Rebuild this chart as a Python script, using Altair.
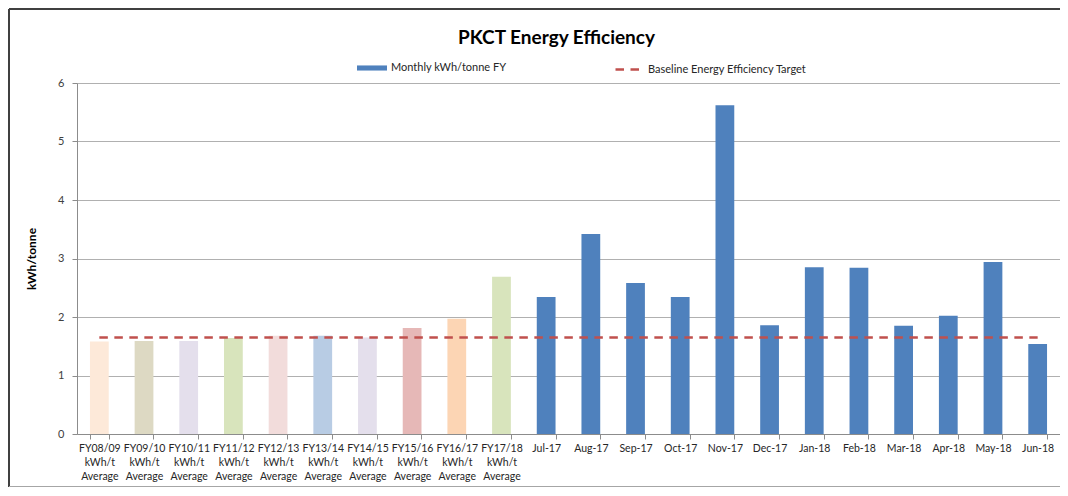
import altair as alt
import pandas as pd

categories = [
    "FY08/09 kWh/t Average", "FY09/10 kWh/t Average", "FY10/11 kWh/t Average",
    "FY11/12 kWh/t Average", "FY12/13 kWh/t Average", "FY13/14 kWh/t Average",
    "FY14/15 kWh/t Average", "FY15/16 kWh/t Average", "FY16/17 kWh/t Average",
    "FY17/18 kWh/t Average",
    "Jul-17", "Aug-17", "Sep-17", "Oct-17", "Nov-17", "Dec-17",
    "Jan-18", "Feb-18", "Mar-18", "Apr-18", "May-18", "Jun-18",
]
values = [1.58, 1.59, 1.59, 1.64, 1.68, 1.68, 1.65, 1.81, 1.97, 2.69,
          2.34, 3.42, 2.58, 2.34, 5.62, 1.86, 2.85, 2.84, 1.85, 2.02, 2.94, 1.54]
bar_colors = ["#FDE9D9", "#DDD9C3", "#E4DFEC", "#D8E4BC", "#F2DCDB", "#B8CCE4",
              "#E4DFEC", "#E6B8B7", "#FCD5B4", "#D8E4BC"] + ["#4F81BD"] * 12
groups = ["FY"] * 10 + ["Monthly"] * 12
target = [1.65] * 22

series_bar = "Monthly kWh/tonne FY"
series_line = "Baseline Energy Efficiency Target"

df = pd.DataFrame({
    "category": categories,
    "value": values,
    "color": bar_colors,
    "group": groups,
    "target": target,
    "series": series_bar,
    "tseries": series_line,
})

FONT = "Lato"
W, H = 983, 351

x_enc = alt.X(
    "category:N", sort=categories, title=None,
    scale=alt.Scale(paddingInner=0.58, paddingOuter=0.29),
    axis=alt.Axis(
        labelAngle=0, tickBand="extent",
        labelExpr="isValid(datum.value) ? split(datum.value, ' ') : ''",
        labelLineHeight=14, labelFontSize=10.5, labelColor="#262626",
        tickSize=5, tickColor="#8C8C8C", domainColor="#8C8C8C",
        labelPadding=4, labelFont=FONT, grid=False,
    ),
)

y_enc = alt.Y(
    "value:Q", title="kWh/tonne",
    scale=alt.Scale(domain=[0, 6], nice=False),
    axis=alt.Axis(
        values=[0, 1, 2, 3, 4, 5, 6], format="d", labelFontSize=11,
        labelColor="#404040", labelFont=FONT, tickSize=5, tickColor="#8C8C8C",
        domainColor="#8C8C8C", gridColor="#B0B0B0", labelPadding=8,
        titleFont=FONT, titleFontSize=12, titleFontWeight="bold",
        titleColor="#000000", titleX=-46, titleY=H / 2, titleAngle=270,
        titleAlign="center", titleBaseline="middle",
    ),
)

base = alt.Chart(df)

fy_bars = base.transform_filter(alt.datum.group == "FY").mark_bar().encode(
    x=x_enc, y=y_enc, color=alt.Color("color:N", scale=None),
)

month_bars = base.transform_filter(alt.datum.group == "Monthly").mark_bar().encode(
    x=x_enc, y=y_enc,
    fill=alt.Fill(
        "series:N",
        scale=alt.Scale(domain=[series_bar], range=["#4F81BD"]),
        legend=alt.Legend(
            title=None, orient="none", legendX=280, legendY=-30, padding=0,
            symbolType="M-1,-0.17L1,-0.17L1,0.17L-1,0.17Z", symbolSize=900,
            symbolStrokeWidth=0, labelFont=FONT, labelFontSize=11,
            labelColor="#262626", labelOffset=4,
        ),
    ),
)

line = base.mark_line(strokeDash=[8.5, 6.5], strokeWidth=2.6).encode(
    x=x_enc,
    y=alt.Y("target:Q", scale=alt.Scale(domain=[0, 6], nice=False)),
    stroke=alt.Stroke(
        "tseries:N",
        scale=alt.Scale(domain=[series_line], range=["#C0504D"]),
        legend=alt.Legend(
            title=None, orient="none", legendX=537, legendY=-27, padding=0,
            symbolType="stroke", symbolSize=576, symbolStrokeWidth=2.6,
            symbolDash=[8.5, 6.5], labelFont=FONT, labelFontSize=11,
            labelColor="#262626", labelOffset=7,
        ),
    ),
)

frame_top = base.mark_rule(color="#404040", strokeWidth=2).encode(
    x=alt.value(-68), x2=alt.value(986), y=alt.value(-74),
)
frame_left = base.mark_rule(color="#404040", strokeWidth=2).encode(
    x=alt.value(-68), y=alt.value(-74), y2=alt.value(404),
)
frame_bottom = base.mark_rule(color="#A6A6A6", strokeWidth=1).encode(
    x=alt.value(-68), x2=alt.value(986), y=alt.value(403.5),
)

chart = alt.layer(fy_bars, month_bars, line, frame_top, frame_left, frame_bottom).properties(
    width=W, height=H,
    autosize=alt.AutoSizeParams(type="none"),
    padding={"left": 69, "top": 75, "right": 0, "bottom": 54},
    title=alt.TitleParams(
        "PKCT Energy Efficiency", font=FONT, fontSize=19, fontWeight="bold",
        color="#000000", anchor="middle", dx=-12, dy=40, offset=0,
    ),
).configure_view(stroke=None).configure(background="white")

chart.save("out.html", embed_options={"renderer": "svg", "actions": False})
